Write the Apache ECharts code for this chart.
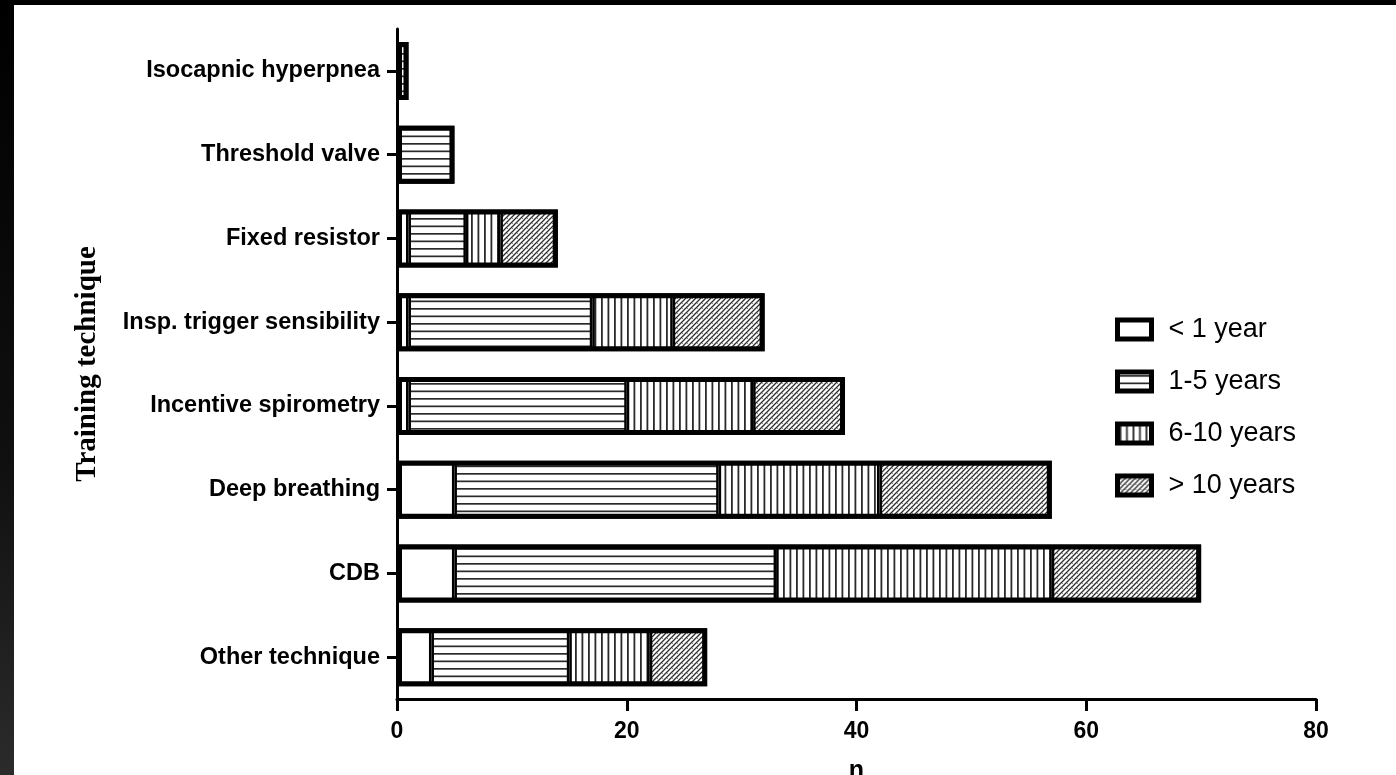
<!DOCTYPE html>
<html>
<head>
<meta charset="utf-8">
<script src="https://cdn.jsdelivr.net/npm/echarts@6/dist/echarts.min.js"></script>
<style>
  html, body { margin: 0; padding: 0; width: 1396px; height: 775px; overflow: hidden;
    background: linear-gradient(#000 0%, #101010 60%, #2b2b2b 100%); }
  #chart { position: absolute; left: 14px; top: 5px; width: 1382px; height: 770px; background: #fff; }
</style>
</head>
<body>
<div id="chart"></div>
<script>
// Training techniques (top to bottom) and counts per experience group
const categories = ['Isocapnic hyperpnea', 'Threshold valve', 'Fixed resistor', 'Insp. trigger sensibility',
  'Incentive spirometry', 'Deep breathing', 'CDB', 'Other technique'];
const lessThan1Year = [0, 0, 1, 1, 1, 5, 5, 3];
const years1to5 = [1, 5, 5, 16, 19, 23, 28, 12];
const years6to10 = [0, 0, 3, 7, 11, 14, 24, 7];
const over10Years = [0, 0, 5, 8, 8, 15, 13, 5];
const seriesNames = ['< 1 year', '1-5 years', '6-10 years', '> 10 years'];
const xMin = 0, xMax = 80, xStep = 20;

// Fill patterns for the bar segments
function makePattern(kind) {
  const c = document.createElement('canvas');
  const ctx = c.getContext('2d');
  if (kind === 'plain') {
    c.width = 4; c.height = 4;
    ctx.fillStyle = '#fff'; ctx.fillRect(0, 0, 4, 4);
  } else if (kind === 'h') {
    c.width = 8; c.height = 15;
    ctx.fillStyle = '#fff'; ctx.fillRect(0, 0, 8, 15);
    ctx.fillStyle = '#2a2a2a';
    ctx.fillRect(0, 3, 8, 1.7);
    ctx.fillRect(0, 10.5, 8, 1.7);
  } else if (kind === 'v') {
    c.width = 13; c.height = 8;
    ctx.fillStyle = '#fff'; ctx.fillRect(0, 0, 13, 8);
    ctx.fillStyle = '#2a2a2a';
    ctx.fillRect(2, 0, 1.8, 8);
    ctx.fillRect(8.5, 0, 1.8, 8);
  } else {
    c.width = 5; c.height = 5;
    ctx.fillStyle = '#fff'; ctx.fillRect(0, 0, 5, 5);
    ctx.strokeStyle = '#2e2e2e'; ctx.lineWidth = 1.3;
    ctx.beginPath();
    ctx.moveTo(-1, 6); ctx.lineTo(6, -1);
    ctx.moveTo(-3.5, 3.5); ctx.lineTo(3.5, -3.5);
    ctx.moveTo(1.5, 8.5); ctx.lineTo(8.5, 1.5);
    ctx.stroke();
    ctx.fillStyle = '#888';
    ctx.fillRect(3, 3, 1, 1);
  }
  return { image: c, repeat: 'repeat' };
}
const fills = [makePattern('plain'), makePattern('h'), makePattern('v'), makePattern('x')];
const values = [lessThan1Year, years1to5, years6to10, over10Years];
// Row totals, used for the heavy outline around each stacked bar
const totals = categories.map((_, k) => values.reduce((s, arr) => s + arr[k], 0));

const labelFont = "'Liberation Sans', Arial, sans-serif";
const BAR_W = 58;

const segmentSeries = seriesNames.map((name, i) => ({
  name,
  type: 'bar',
  stack: 'total',
  barWidth: BAR_W,
  barGap: '-100%',
  data: values[i].map(v => (v === 0 ? null : v)),
  itemStyle: { color: fills[i], borderColor: '#000', borderWidth: 2.5 },
  emphasis: { disabled: true }
}));

const outlineSeries = {
  name: 'outline',
  type: 'bar',
  barWidth: BAR_W,
  barGap: '-100%',
  silent: true,
  z: 3,
  data: totals,
  itemStyle: { color: 'rgba(0,0,0,0)', borderColor: '#000', borderWidth: 5 },
  emphasis: { disabled: true }
};

const chart = echarts.init(document.getElementById('chart'), null, { renderer: 'canvas' });
chart.setOption({
  backgroundColor: '#fff',
  animation: false,
  grid: { left: 383, right: 80, top: 24, bottom: 76, outerBoundsMode: 'none' },
  legend: {
    orient: 'vertical',
    left: 1101, top: 311,
    padding: 0,
    icon: 'rect',
    itemWidth: 34, itemHeight: 19,
    itemGap: 25,
    data: seriesNames,
    textStyle: { fontFamily: labelFont, fontSize: 27, color: '#000', lineHeight: 27, padding: [0, 0, 0, 12] },
    itemStyle: { borderColor: '#000', borderWidth: 5 }
  },
  xAxis: {
    type: 'value',
    min: xMin, max: xMax, interval: xStep,
    name: 'n',
    nameLocation: 'middle',
    nameGap: 60,
    nameTextStyle: { fontFamily: labelFont, fontWeight: 'bold', fontSize: 25, color: '#000' },
    splitLine: { show: false },
    axisLine: { show: true, lineStyle: { color: '#000', width: 3 } },
    axisTick: { show: true, length: 12, lineStyle: { color: '#000', width: 3 } },
    axisLabel: { margin: 21, fontFamily: labelFont, fontWeight: 'bold', fontSize: 23, color: '#000' }
  },
  yAxis: {
    type: 'category',
    inverse: true,
    data: categories,
    name: 'Training technique',
    nameLocation: 'middle',
    nameRotate: 90,
    nameGap: 295,
    nameTextStyle: { fontFamily: "'Liberation Serif', 'Times New Roman', serif", fontWeight: 'bold', fontSize: 29, color: '#000' },
    axisLine: { show: true, lineStyle: { color: '#000', width: 3 } },
    axisTick: { show: true, alignWithLabel: true, length: 10, lineStyle: { color: '#000', width: 3 } },
    axisLabel: { margin: 17, fontFamily: labelFont, fontWeight: 'bold', fontSize: 23.5, color: '#000' }
  },
  series: segmentSeries.concat([outlineSeries])
});
</script>
</body>
</html>
